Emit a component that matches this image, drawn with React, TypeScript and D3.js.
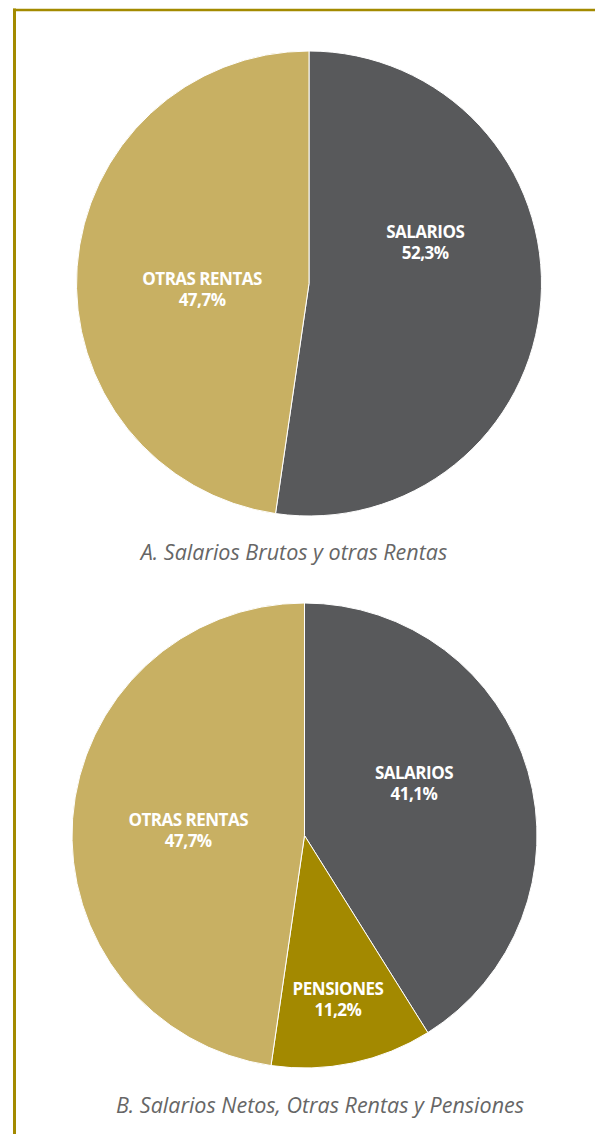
import React from "react";
import * as d3 from "d3";

const chartA_labels = ["SALARIOS", "OTRAS RENTAS"];
const chartA_values = [52.3, 47.7];
const chartA_caption = "A. Salarios Brutos y otras Rentas";

const chartB_labels = ["SALARIOS", "PENSIONES", "OTRAS RENTAS"];
const chartB_values = [41.1, 11.2, 47.7];
const chartB_caption = "B. Salarios Netos, Otras Rentas y Pensiones";

const COLORS: Record<string, string> = {
  SALARIOS: "#58595b",
  "OTRAS RENTAS": "#c8b063",
  PENSIONES: "#a38900",
};

// label anchor as fraction of radius (layout)
const LABEL_POS_A: [number, number][] = [[0.5, -0.144], [-0.46, 0.058]];
const LABEL_POS_B: [number, number][] = [[0.471, -0.191], [0.144, 0.738], [-0.5, 0.01]];

const fmt = (v: number) => v.toFixed(1).replace(".", ",") + "%";

function Pie({ cx, cy, r, labels, values, labelPos, caption, capX, capY }: any) {
  const pie = d3.pie<number>().sort(null).value((d) => d);
  const arcs = pie(values);
  const arc = d3.arc<d3.PieArcDatum<number>>().innerRadius(0).outerRadius(r);
  return (
    <g>
      <g transform={`translate(${cx},${cy})`}>
        {arcs.map((a, i) => (
          <path key={i} d={arc(a) || ""} fill={COLORS[labels[i]]} stroke="#fff" strokeWidth={1} />
        ))}
        {arcs.map((a, i) => (
          <text
            key={"t" + i}
            x={labelPos[i][0] * r}
            y={labelPos[i][1] * r}
            textAnchor="middle"
            fill="#fff"
            fontFamily="'Open Sans', sans-serif"
            fontWeight={700}
            fontSize={17}
            letterSpacing={-0.5}
          >
            <tspan x={labelPos[i][0] * r} dy={-12}>{labels[i]}</tspan>
            <tspan x={labelPos[i][0] * r} dy={21}>{fmt(values[i])}</tspan>
          </text>
        ))}
      </g>
      <text
        x={capX}
        y={capY}
        textAnchor="middle"
        fill="#666"
        fontFamily="'Open Sans', sans-serif"
        fontStyle="italic"
        fontSize={21.5}
      >
        {caption}
      </text>
    </g>
  );
}

export default function App() {
  return (
    <svg
      width={595}
      height={1134}
      style={{ position: "absolute", left: 0, top: 0, background: "#fff" }}
    >
      <line x1={14.5} y1={8.5} x2={14.5} y2={1134} stroke="#a38a00" strokeWidth={3} />
      <line x1={13} y1={10} x2={595} y2={10} stroke="#a38a00" strokeWidth={2.5} />
      <Pie
        cx={309}
        cy={283.5}
        r={232.5}
        labels={chartA_labels}
        values={chartA_values}
        labelPos={LABEL_POS_A}
        caption={chartA_caption}
        capX={294}
        capY={560}
      />
      <Pie
        cx={304.5}
        cy={835.5}
        r={232.5}
        labels={chartB_labels}
        values={chartB_values}
        labelPos={LABEL_POS_B}
        caption={chartB_caption}
        capX={320}
        capY={1113}
      />
    </svg>
  );
}
